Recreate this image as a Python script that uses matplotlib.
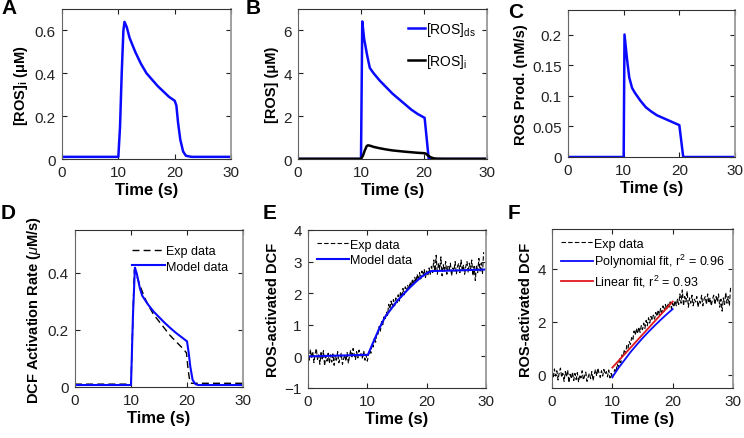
import numpy as np
import matplotlib
matplotlib.use("Agg")
import matplotlib.pyplot as plt

plt.rcParams["font.family"] = ["Liberation Sans", "DejaVu Sans"]
plt.rcParams["mathtext.fontset"] = "custom"
plt.rcParams["mathtext.rm"] = "Liberation Sans"
plt.rcParams["mathtext.it"] = "Liberation Sans:italic"
plt.rcParams["mathtext.bf"] = "Liberation Sans:bold"

# ---- data ----
# A / B: intracellular ROS
time_i = [0, 10, 10.3, 10.6, 10.9, 11.1, 11.5, 12, 13, 14, 15, 16, 17, 18, 19, 20, 20.3, 20.6, 21, 21.5, 22, 23, 30]
ros_i = [0.01, 0.01, 0.15, 0.40, 0.60, 0.64, 0.615, 0.565, 0.50, 0.445, 0.40, 0.37, 0.34, 0.315, 0.29, 0.272, 0.25, 0.17, 0.09, 0.035, 0.015, 0.01, 0.01]

# B: dyadic space ROS
time_ds = [0, 10, 10.2, 10.5, 11, 11.4, 12, 13, 14, 15, 16, 17, 18, 19, 20.1, 20.75, 30]
ros_ds = [0, 0, 6.42, 5.6, 4.8, 4.25, 4.0, 3.65, 3.35, 3.05, 2.8, 2.55, 2.3, 2.1, 1.92, 0, 0]

# C: ROS production
time_prod = [0, 10, 10.15, 10.6, 11.0, 11.5, 12, 13, 14, 15, 16, 17, 18, 19, 20.0, 20.7, 30]
ros_prod = [0, 0, 0.2, 0.16, 0.13, 0.113, 0.105, 0.092, 0.081, 0.074, 0.068, 0.064, 0.060, 0.056, 0.052, 0, 0]

# D: DCF activation rate
time_rate_model = [0, 10, 10.35, 10.7, 11.0, 11.6, 12, 13, 14, 15, 16, 17, 18, 19, 20.0, 20.3, 20.6, 21.0, 21.5, 22, 30]
rate_model = [0.007, 0.007, 0.25, 0.418, 0.40, 0.345, 0.32, 0.29, 0.265, 0.245, 0.225, 0.207, 0.19, 0.175, 0.16, 0.12, 0.07, 0.025, 0.01, 0.007, 0.007]
time_rate_exp = [0, 10, 10.2, 10.6, 11.0, 11.8, 12.5, 13, 14, 15, 16, 17, 18, 19, 19.9, 20.2, 20.5, 20.8, 30]
rate_exp = [0.01, 0.01, 0.15, 0.41, 0.39, 0.345, 0.31, 0.29, 0.255, 0.23, 0.205, 0.18, 0.16, 0.14, 0.12, 0.06, 0.02, 0.013, 0.013]

# E / F: ROS-activated DCF, experiment sampled every 0.2 s from t = 0
exp_t0, exp_dt = 0.0, 0.2
dcf_exp = [
    0.10, -0.12, 0.22, -0.05, 0.15, -0.20, 0.08, 0.25, -0.10, 0.05,
    -0.25, 0.12, -0.08, 0.18, -0.30, 0.02, -0.15, 0.10, -0.22, 0.05,
    -0.18, 0.08, -0.28, 0.00, -0.12, 0.15, -0.20, -0.05, 0.10, -0.25,
    -0.08, 0.05, -0.15, 0.12, -0.22, 0.02, 0.20, -0.05, 0.25, 0.05,
    -0.10, 0.15, -0.05, 0.20, 0.02, 0.12, -0.08, 0.18, -0.12, 0.05,
    -0.15, 0.05, 0.20, 0.10, 0.40, 0.30, 0.60, 0.45, 0.75, 0.70,
    0.95, 0.80, 1.10, 1.00, 1.25, 1.15, 1.40, 1.30, 1.65, 1.50,
    1.75, 1.55, 1.80, 1.60, 1.85, 1.70, 1.95, 1.75, 2.05, 1.85,
    2.15, 1.95, 2.20, 2.05, 2.25, 2.10, 2.35, 2.20, 2.45, 2.25,
    2.50, 2.35, 2.60, 2.40, 2.65, 2.45, 2.70, 2.55, 2.75, 2.50,
    2.70, 2.55, 2.80, 2.60, 2.85,
    2.65, 3.05, 2.70, 3.20, 2.60, 2.95, 2.75, 3.15, 2.55, 2.90,
    2.70, 3.00, 2.60, 2.85, 2.75, 2.95, 2.55, 2.80, 2.70, 3.00,
    2.60, 2.85, 2.95, 2.65, 3.05, 2.70, 2.90, 2.60, 2.85, 3.00,
    2.65, 2.95, 2.75, 3.05, 2.55, 2.85, 2.40, 2.90, 2.65, 3.10,
    2.70, 2.95, 2.60, 3.30,
]
time_dcf_model = [0, 10.1, 11, 12, 13, 14, 15, 16, 17, 18, 19, 20, 20.8, 25, 30]
dcf_model = [0.0, 0.05, 0.45, 0.88, 1.25, 1.5, 1.75, 1.95, 2.15, 2.33, 2.5, 2.63, 2.7, 2.72, 2.75]

time_fit = [10, 11, 12, 13, 14, 15, 16, 17, 18, 19, 20]
dcf_poly = [-0.09, 0.25, 0.55, 0.85, 1.12, 1.38, 1.62, 1.85, 2.07, 2.28, 2.48]
time_lin = [10, 20]
dcf_lin = [0.27, 2.76]

time_ticks = [0, 10, 20, 30]

W, H = 744, 439
TICK_FS = 11
XLABEL_FS = 12
YLABEL_FS = 10.5
LEGEND_FS = 9
fig = plt.figure(figsize=(W / 100, H / 100), dpi=100)


def make_axes(left, right, top, bottom):
    ax = fig.add_axes([left / W, 1 - bottom / H, (right - left) / W, (bottom - top) / H])
    ax.set_xlim(0, 30)
    ax.set_xticks(time_ticks)
    ax.tick_params(direction="in", top=True, right=True, length=3.5, width=0.8,
                   labelsize=TICK_FS, pad=4.5, colors="#222222")
    ax.spines["top"].set_color("#333333")
    ax.spines["bottom"].set_color("#333333")
    ax.spines["left"].set_color("#666666")
    ax.spines["right"].set_color("#999999")
    ax.spines["right"].set_linewidth(1.3)
    ax.set_xlabel("Time (s)", fontsize=XLABEL_FS, fontweight="bold", labelpad=2)
    return ax


def letter(x, y, s):
    fig.text(x / W, 1 - y / H, s, fontsize=15, fontweight="bold", va="center", ha="left")


blue = "#0a0aff"

# A
ax = make_axes(62, 231, 10, 160)
ax.plot(time_i, ros_i, color=blue, lw=1.8)
ax.set_ylim(0, 0.7)
ax.set_yticks([0, 0.2, 0.4, 0.6])
ax.set_yticklabels(["0", "0.2", "0.4", "0.6"])
ax.set_ylabel(r"[ROS]$_\mathbf{i}$ ($\mathbf{\mu}$M)", fontsize=YLABEL_FS, fontweight="bold", labelpad=3)
letter(1, 9, "A")

# B
ax = make_axes(298, 487, 10, 160)
ax.plot(time_ds, ros_ds, color=blue, lw=1.8, label=r"[ROS]$_\mathregular{ds}$")
ax.plot(time_i, ros_i, color="black", lw=1.8, label=r"[ROS]$_\mathregular{i}$")
ax.set_ylim(0, 7)
ax.set_yticks([0, 2, 4, 6])
ax.set_ylabel("[ROS] (μM)", fontsize=YLABEL_FS, fontweight="bold", labelpad=3)
ax.legend(loc="upper right", frameon=False, fontsize=10, handlelength=1.2,
          handletextpad=0.1, labelspacing=1.0, borderaxespad=0.4)
letter(246, 9, "B")

# C
ax = make_axes(568, 735, 11, 158)
ax.plot(time_prod, ros_prod, color=blue, lw=1.8)
ax.set_ylim(0, 0.24)
ax.set_yticks([0, 0.05, 0.1, 0.15, 0.2])
ax.set_yticklabels(["0", "0.05", "0.1", "0.15", "0.2"])
ax.set_ylabel("ROS Prod. (nM/s)", fontsize=YLABEL_FS, fontweight="bold", labelpad=3)
letter(508, 12, "C")

# D
ax = make_axes(75, 243, 231, 388)
ax.plot(time_rate_exp, rate_exp, color="black", lw=1.0, ls=(0, (5, 3)), label="Exp data")
ax.plot(time_rate_model, rate_model, color=blue, lw=1.5, label="Model data")
ax.set_ylim(0, 0.55)
ax.set_yticks([0, 0.2, 0.4])
ax.set_yticklabels(["0", "0.2", "0.4"])
ax.set_ylabel(r"DCF Activation Rate ($\mathit{\mu}$M/s)", fontsize=YLABEL_FS, fontweight="bold", labelpad=3)
ax.legend(loc="upper right", frameon=False, fontsize=LEGEND_FS, handlelength=2.6,
          handletextpad=0.1, labelspacing=0.3, borderaxespad=0.8)
letter(1, 214, "D")

exp_time = exp_t0 + exp_dt * np.arange(len(dcf_exp))

# E
ax = make_axes(308, 486, 231, 389)
ax.plot(exp_time, dcf_exp, color="black", lw=0.8, ls=(0, (4, 2)), label="Exp data")
ax.plot(time_dcf_model, dcf_model, color=blue, lw=1.5, label="Model data")
ax.set_ylim(-1, 4)
ax.set_yticks([-1, 0, 1, 2, 3, 4])
ax.set_ylabel("ROS-activated DCF", fontsize=YLABEL_FS, fontweight="bold", labelpad=3)
ax.legend(loc="upper left", frameon=False, fontsize=LEGEND_FS, handlelength=2.6,
          handletextpad=0.1, labelspacing=0.3, borderaxespad=0.3)
letter(263, 214, "E")

# F
ax = make_axes(552, 733, 230, 389)
ax.plot(exp_time, dcf_exp, color="black", lw=0.8, ls=(0, (4, 2)), label="Exp data")
ax.plot(time_fit, dcf_poly, color=blue, lw=1.3, label=r"Polynomial fit, r$^2$ = 0.96")
ax.plot(time_lin, dcf_lin, color="#e0191e", lw=1.3, label=r"Linear fit, r$^2$ = 0.93")
ax.set_ylim(-0.5, 5.5)
ax.set_yticks([0, 2, 4])
ax.set_ylabel("ROS-activated DCF", fontsize=YLABEL_FS, fontweight="bold", labelpad=3)
ax.legend(loc="upper left", frameon=False, fontsize=LEGEND_FS, handlelength=2.6,
          handletextpad=0.1, labelspacing=0.2, borderaxespad=0.3)
letter(508, 214, "F")

fig.savefig("out.png", dpi=100)
